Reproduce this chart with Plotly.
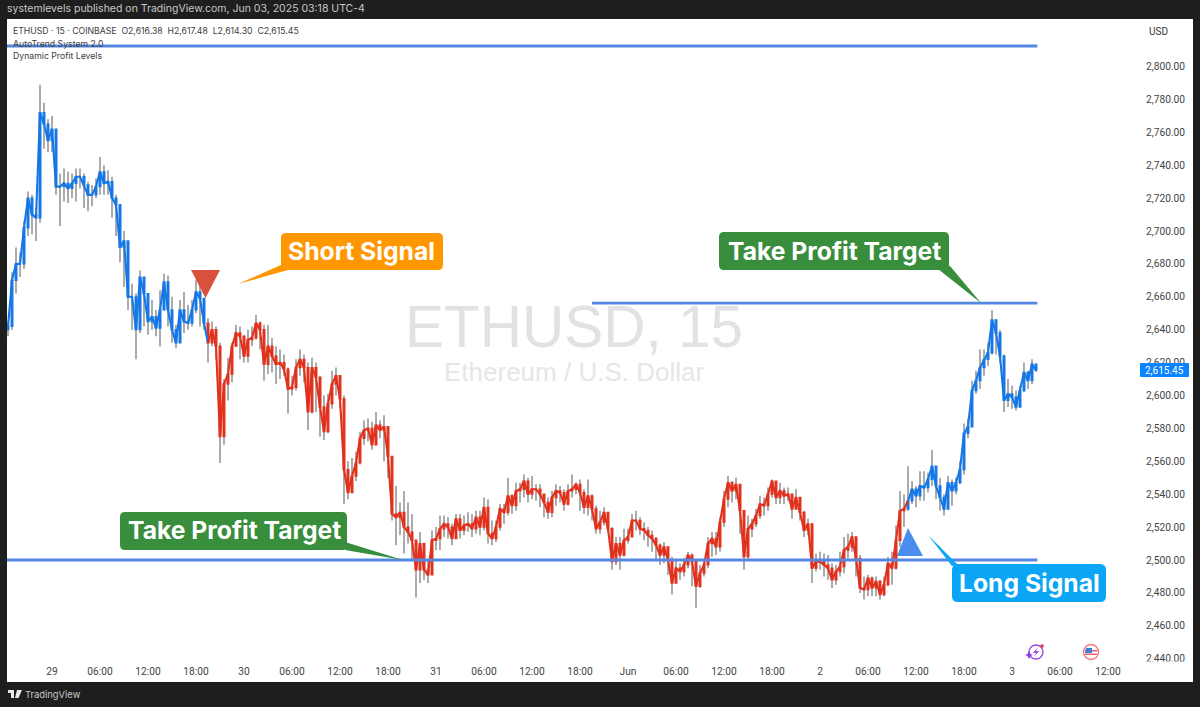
import plotly.graph_objects as go
import pandas as pd

# ---------- data (30-minute sampling) ----------
START = "2025-05-28 18:30"
closes = [
 2642,2670,2680,2680,2702,2720,2710,2708,2772,2765,
 2755,2762,2727,2727,2729,2726,2729,2733,2733,2728,
 2722,2722,2727,2736,2729,2730,2720,2716,2690,2694,
 2660,2660,2640,2672,2662,2645,2648,2641,2652,2669,
 2652,2640,2632,2652,2645,2644,2652,2663,2659,2644,
 2632,2640,2630,2575,2607,2613,2630,2638,2636,2624,
 2634,2635,2644,2640,2619,2630,2624,2619,2620,2616,
 2604,2605,2617,2622,2617,2590,2617,2611,2593,2578,
 2595,2607,2612,2598,2555,2541,2551,2559,2574,2579,
 2580,2570,2582,2579,2581,2563,2528,2526,
 2529,2520,2517,2512,2494,2510,2494,2491,2512,2513,
 2519,2522,2520,2513,2525,2518,2521,2522,2519,2526,
 2520,2532,2516,2513,2520,2531,2529,2539,2533,2542,
 2543,2548,2540,2543,2543,2540,2535,2529,2538,2542,
 2541,2534,2542,2543,2546,2541,2532,2539,2531,2519,
 2523,2529,2519,2499,2510,2503,2512,2514,2524,2524,
 2519,2518,2515,2513,2509,2503,2508,2500,2486,2495,
 2493,2497,2503,2499,2484,2492,2497,2510,2513,2508,
 2523,2537,2547,2542,2546,2530,2502,2519,2522,2527,
 2534,2533,2540,2548,2538,2542,2539,2540,2531,2538,
 2529,2518,2522,2495,2499,2499,2497,2495,2488,2493,
 2496,2506,2508,2514,2501,2483,2482,2489,2483,2487,
 2479,2485,2498,2495,2512,2530,2531,
 2536,2543,2539,2545,2544,2549,2557,2545,
 2538,2531,2547,2542,2547,2555,2577,
 2581,2603,2609,2617,2622,2626,2646,2638,2624,2597,
 2601,2599,2593,2603,2614,2609,2619,2615.45]
highs = [
 2645,2675,2690,2687,2706,2724,2722,2714,2789,2778,
 2768,2770,2762,2735,2738,2736,2735,2738,2738,2735,
 2730,2728,2732,2745,2740,2737,2733,2722,2716,2700,
 2694,2668,2662,2676,2672,2657,2658,2652,2664,2674,
 2673,2660,2643,2658,2663,2655,2658,2670,2668,2655,
 2647,2645,2642,2632,2610,2623,2632,2643,2642,2637,
 2640,2642,2649,2645,2643,2643,2635,2630,2628,2625,
 2617,2612,2622,2628,2625,2620,2623,2620,2612,2600,
 2601,2615,2617,2607,2600,2560,2562,2566,2578,2585,
 2586,2584,2590,2585,2588,2575,2560,2545,
 2535,2542,2535,2528,2511,2517,2510,2500,2518,2520,
 2527,2527,2526,2522,2528,2528,2527,2529,2528,2530,
 2530,2538,2537,2524,2524,2534,2534,2550,2540,2547,
 2547,2552,2550,2551,2546,2546,2540,2538,2542,2546,
 2545,2543,2546,2552,2547,2549,2543,2549,2540,2533,
 2530,2532,2527,2520,2514,2514,2519,2519,2528,2530,
 2526,2523,2520,2518,2514,2510,2511,2508,2502,2500,
 2498,2501,2505,2504,2500,2497,2499,2514,2517,2517,
 2526,2542,2551,2548,2550,2546,2530,2527,2525,2531,
 2539,2538,2544,2549,2545,2547,2544,2544,2538,2543,
 2536,2530,2525,2522,2504,2505,2504,2503,2498,2497,
 2505,2514,2516,2517,2514,2503,2490,2491,2490,2490,
 2488,2490,2502,2505,2521,2542,2540,
 2557,2548,2545,2554,2554,2553,2567,2553,
 2550,2540,2551,2549,2550,2560,2583,
 2586,2609,2615,2628,2628,2632,2652,2645,2640,2625,
 2610,2606,2603,2606,2620,2615,2622,2617.48]
lows = [
 2636,2640,2662,2672,2677,2697,2698,2694,2705,2750,
 2748,2748,2722,2703,2718,2717,2720,2718,2726,2714,
 2712,2715,2720,2722,2722,2722,2708,2697,2681,2666,
 2652,2640,2622,2638,2642,2637,2640,2636,2630,2652,
 2642,2632,2629,2632,2638,2640,2642,2650,2642,2640,
 2620,2630,2622,2559,2570,2597,2608,2630,2622,2620,
 2620,2630,2634,2628,2609,2613,2614,2607,2610,2612,
 2589,2600,2603,2612,2608,2579,2589,2590,2575,2573,
 2577,2592,2600,2592,2534,2537,2541,2548,2558,2570,
 2572,2567,2570,2574,2560,2550,2524,2509,
 2515,2504,2510,2500,2477,2486,2488,2486,2492,2506,
 2506,2514,2513,2509,2514,2513,2515,2517,2514,2516,
 2515,2518,2510,2509,2511,2518,2522,2527,2528,2530,
 2535,2538,2535,2537,2536,2532,2526,2525,2526,2533,
 2535,2530,2533,2538,2540,2530,2528,2527,2524,2516,
 2516,2521,2517,2494,2497,2494,2502,2510,2516,2518,
 2515,2512,2508,2505,2500,2497,2498,2491,2479,2487,
 2488,2490,2495,2484,2471,2483,2490,2495,2502,2503,
 2505,2520,2532,2535,2537,2516,2494,2500,2514,2520,
 2525,2527,2530,2538,2534,2534,2534,2536,2525,2531,
 2524,2514,2515,2486,2493,2494,2490,2488,2483,2485,
 2490,2492,2501,2505,2490,2480,2476,2478,2478,2478,
 2476,2478,2484,2485,2494,2508,2520,
 2530,2534,2532,2536,2536,2541,2545,2537,
 2530,2527,2531,2533,2540,2546,2552,
 2574,2581,2601,2604,2612,2618,2625,2625,2620,2590,
 2593,2592,2591,2593,2602,2604,2607,2614.30]
first_open = 2640
red_from, blue_from = 50, 225          # bar index where trend colour flips

levels = [2812.5, 2656.2, 2500.0]
level_starts = ["2025-05-28 18:22", "2025-05-31 19:30", "2025-05-28 18:22"]
level_end = "2025-06-03 03:10"

price_ticks = [2440,2460,2480,2500,2520,2540,2560,2580,2600,2620,2640,2660,2680,2700,2720,2740,2760,2780,2800]
tick_dates = ["2025-05-29 00:00","2025-05-29 06:00","2025-05-29 12:00","2025-05-29 18:00",
              "2025-05-30 00:00","2025-05-30 06:00","2025-05-30 12:00","2025-05-30 18:00",
              "2025-05-31 00:00","2025-05-31 06:00","2025-05-31 12:00","2025-05-31 18:00",
              "2025-06-01 00:00","2025-06-01 06:00","2025-06-01 12:00","2025-06-01 18:00",
              "2025-06-02 00:00","2025-06-02 06:00","2025-06-02 12:00","2025-06-02 18:00",
              "2025-06-03 00:00","2025-06-03 06:00","2025-06-03 12:00"]
tick_labels = ["29","06:00","12:00","18:00","30","06:00","12:00","18:00",
               "31","06:00","12:00","18:00","Jun","06:00","12:00","18:00",
               "2","06:00","12:00","18:00","3","06:00","12:00"]

BLUE, RED, WICK, LEVEL = "#1577e6", "#e1301c", "#686868", "#5587e2"
FONT = "Inter"
AXISFONT = "Roboto"

# ---------- geometry helpers (page pixels -> paper fractions) ----------
W, H = 1200, 707
L, R, T, B = 7, 1138, 19, 660
fx = lambda px: (px - L) / (R - L)
fy = lambda py: (B - py) / (B - T)

def path(points):
    return "M " + " L ".join(f"{fx(x):.5f},{fy(y):.5f}" for x, y in points) + " Z"

def rrect(x0, y0, x1, y1, r):
    q = lambda x, y: f"{fx(x):.5f},{fy(y):.5f}"
    return (f"M {q(x0+r,y0)} L {q(x1-r,y0)} Q {q(x1,y0)} {q(x1,y0+r)} L {q(x1,y1-r)} Q {q(x1,y1)} {q(x1-r,y1)} "
            f"L {q(x0+r,y1)} Q {q(x0,y1)} {q(x0,y1-r)} L {q(x0,y0+r)} Q {q(x0,y0)} {q(x0+r,y0)} Z")

def shp(d, color, layer="above", line=None):
    return dict(type="path", path=d, xref="paper", yref="paper", fillcolor=color, layer=layer,
                line=dict(width=0 if line is None else line[1], color=line[0] if line else color))

def circ(cx, cy, r, fill, line=None, width=0):
    return dict(type="circle", xref="paper", yref="paper", x0=fx(cx-r), x1=fx(cx+r), y0=fy(cy+r), y1=fy(cy-r),
                fillcolor=fill, line=dict(color=line or fill, width=width), layer="above")

def txt(x, y, s, size, color, anchor="left", weight=400, family=FONT):
    return dict(x=fx(x), y=fy(y), xref="paper", yref="paper", text=s, showarrow=False, xanchor=anchor,
                yanchor="middle", font=dict(size=size, color=color, family=family, weight=weight))

# ---------- traces ----------
times = pd.date_range(START, periods=len(closes), freq="30min")
opens = [first_open] + closes[:-1]
fig = go.Figure()

mids = [(o + c) / 2 for o, c in zip(opens, closes)]
fig.add_trace(go.Candlestick(x=times, open=mids, close=mids, high=highs, low=lows, whiskerwidth=0,
                             increasing=dict(line=dict(color=WICK, width=1.1), fillcolor=WICK),
                             decreasing=dict(line=dict(color=WICK, width=1.1), fillcolor=WICK),
                             hoverinfo="skip", showlegend=False))

def bodies(a, b, color):
    o, c = opens[a:b], closes[a:b]
    fig.add_trace(go.Scatter(x=times[a:b + 1], y=closes[a:b + 1], mode="lines",
                             line=dict(color=color, width=2.1), showlegend=False, hoverinfo="skip"))
    fig.add_trace(go.Candlestick(x=times[a:b], open=o, close=c,
                                 high=[max(p, q) for p, q in zip(o, c)], low=[min(p, q) for p, q in zip(o, c)],
                                 whiskerwidth=0,
                                 increasing=dict(line=dict(color=color, width=1.3), fillcolor=color),
                                 decreasing=dict(line=dict(color=color, width=1.3), fillcolor=color),
                                 showlegend=False))

bodies(0, red_from, BLUE)
bodies(red_from, blue_from, RED)
bodies(blue_from, len(closes), BLUE)

for lv, st in zip(levels, level_starts):
    fig.add_trace(go.Scatter(x=[st, level_end], y=[lv, lv], mode="lines",
                             line=dict(color=LEVEL, width=2.8), showlegend=False, hoverinfo="skip"))

# ---------- overlay shapes ----------
ORANGE, GREEN, SKY = "#ff9800", "#388e3c", "#0aa5f5"
shapes = [
    dict(type="rect", xref="paper", yref="paper", x0=0, x1=fx(1193), y0=fy(682), y1=1,
         fillcolor="#ffffff", line=dict(width=0), layer="below"),
    shp(path([(191, 270), (220, 270), (205.5, 298)]), "#d9503c"),
    shp(path([(908, 528), (923, 556), (897, 556)]), "#4a8df0", layer="below"),
    shp(rrect(281, 233, 443, 270, 5), ORANGE),
    shp(path([(238, 284), (283, 264), (288, 270)]), ORANGE),
    shp(rrect(719, 232, 949, 270, 5), GREEN),
    shp(path([(938, 269), (981, 303), (950, 266)]), GREEN),
    shp(rrect(120, 512, 347, 550, 5), GREEN),
    shp(path([(345, 542), (403, 560), (345, 550)]), GREEN),
    shp(rrect(952, 564, 1106, 602, 6), SKY),
    shp(path([(928, 535), (952, 566), (958, 565)]), SKY),
    shp(rrect(1140, 363, 1189, 377, 1), "#0a84ff"),
    # clips the lowest price label as the chart pane does
    dict(type="rect", xref="paper", yref="paper", x0=fx(1140), x1=fx(1190), y0=fy(666), y1=fy(661.5),
         fillcolor="#ffffff", line=dict(width=0), layer="above"),
    # TradingView logo
    shp(path([(8, 690), (14, 690), (14, 698), (11, 698), (11, 693), (8, 693)]), "#e8e8e8"),
    shp(path([(17, 690), (22, 690), (18.5, 698), (15, 698)]), "#e8e8e8"),
    # purple icon
    circ(1036, 652, 7, "rgba(0,0,0,0)", "#9a4fe0", 1.4),
    shp(path([(1038, 647), (1033, 653), (1036, 653), (1034, 657), (1039, 651), (1036, 651)]), "#9a4fe0"),
    shp(path([(1029, 651), (1030.5, 654), (1033, 655), (1030.5, 656), (1029, 659), (1027.5, 656), (1025, 655), (1027.5, 654)]), "#8b3fe8"),
    circ(1042, 646, 1.8, "#d63a4a"),
    # flag icon
    circ(1091, 652, 7.5, "#ffffff", "#ef7b7d", 1.4),
    shp(path([(1085, 650), (1097, 650), (1097, 651.5), (1085, 651.5)]), "#e8606a"),
    shp(path([(1085, 653.5), (1097, 653.5), (1097, 655), (1085, 655)]), "#e8606a"),
    shp(path([(1086, 648), (1092, 648), (1092, 653), (1085, 653)]), "#3f7fd6"),
]

annotations = [
    txt(5, 9, "systemlevels published on TradingView.com, Jun 03, 2025 03:18 UTC-4", 10.5, "#c9c9c9"),
    txt(11, 31, "ETHUSD · 15 · COINBASE&nbsp;&nbsp;O2,616.38&nbsp;&nbsp;H2,617.48&nbsp;&nbsp;L2,614.30&nbsp;&nbsp;C2,615.45", 8.7, "#3d3d3d"),
    txt(11, 44, "AutoTrend System 2.0", 8.7, "#3d3d3d"),
    txt(11, 56, "Dynamic Profit Levels", 8.7, "#3d3d3d"),
    txt(1158, 32, "USD", 10, "#333333", "center", family=AXISFONT),
    txt(574, 326, "ETHUSD, 15", 58.5, "#e2e2e2", "center", family="Liberation Sans"),
    txt(574, 372, "Ethereum / U.S. Dollar", 26, "#e6e6e6", "center", family="Liberation Sans"),
    txt(361, 251, "Short Signal", 24.7, "#ffffff", "center", 700),
    txt(834, 251, "Take Profit Target", 24.7, "#ffffff", "center", 700),
    txt(234, 530, "Take Profit Target", 24.7, "#ffffff", "center", 700),
    txt(1029, 583, "Long Signal", 24.7, "#ffffff", "center", 700),
    txt(1164.5, 370, "2,615.45", 10, "#ffffff", "center", family=AXISFONT),
    txt(23, 694, "TradingView", 9.4, "#c9c9c9"),
]

fig.update_layout(
    width=W, height=H, autosize=False,
    margin=dict(l=L, r=W - R, t=T, b=H - B, pad=0),
    paper_bgcolor="#1e1e1e", plot_bgcolor="#ffffff", boxgap=0.4,
    shapes=shapes, annotations=annotations, showlegend=False, hovermode=False,
    font=dict(family=FONT),
    xaxis=dict(type="date", range=["2025-05-28 18:22:30", "2025-06-03 15:45"], rangeslider=dict(visible=False),
               tickmode="array", tickvals=tick_dates, ticktext=tick_labels, showgrid=False, zeroline=False,
               showline=False, ticks="", ticklabelstandoff=4, tickangle=0, tickfont=dict(size=10.2, color="#444444", family=AXISFONT)),
    yaxis=dict(side="right", range=[2439.2, 2828.9], tickmode="array", tickvals=price_ticks, tickformat=",.2f", showgrid=False,
               zeroline=False, showline=False, ticks="", ticklabelstandoff=7, tickfont=dict(size=10.2, color="#444444", family=AXISFONT)),
)

fig.write_html("out.html", config=dict(displayModeBar=False),
               post_script="document.body.style.margin='0';document.body.style.overflow='hidden';")
